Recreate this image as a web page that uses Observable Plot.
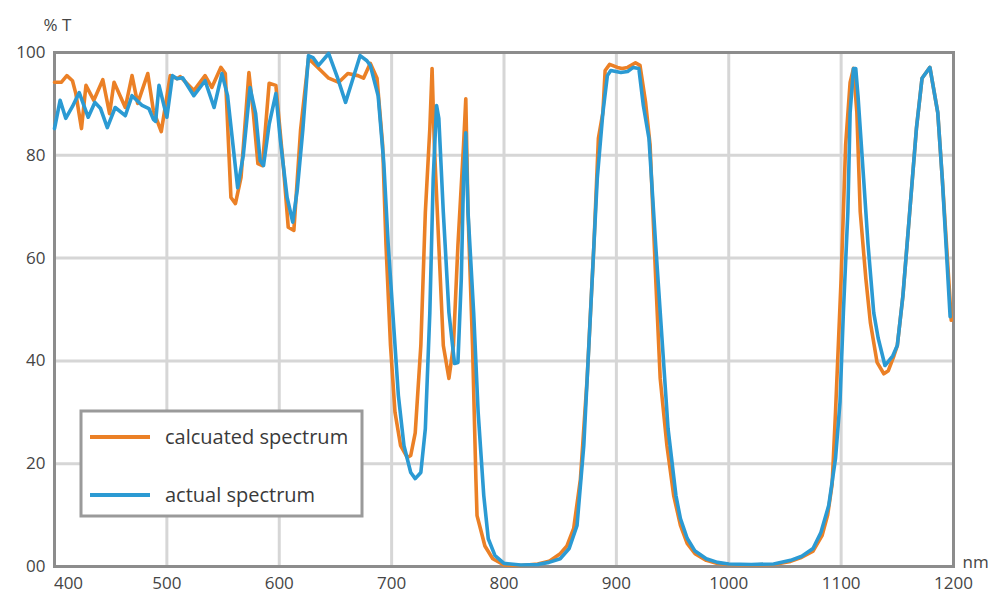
<!DOCTYPE html>
<html>
<head>
<meta charset="utf-8">
<script src="https://cdn.jsdelivr.net/npm/d3@7"></script>
<script src="https://cdn.jsdelivr.net/npm/@observablehq/plot@0.6"></script>
<style>
  html, body { margin: 0; padding: 0; background: #ffffff; }
  #chart svg { display: block; font-family: "Open Sans", "Noto Sans", sans-serif; }
</style>
</head>
<body>
<div id="chart"></div>
<script>
// Transmission spectra: wavelength (nm) and transmission (%T)
const calcNm = [400,406,411,416,419,424,428,435,443,449,453,463,469,474,483,488,495,503,509,512,524,534,540,548,552,557,561,566,573,577,581,585,591,597,604,608,613,619,626,630,637,644,653,661,670,675,681,687,692,695,699,703,708,714,717,721,726,730,734,736,738,742,746,751,755,759,764,766,768,772,775,776,779,783,790,800,815,830,840,850,856,862,868,874,880,884,888,890,894,901,905,910,917,921,926,930,935,939,945,951,957,963,970,980,990,1000,1020,1040,1055,1065,1075,1083,1088,1092,1095,1100,1104,1108,1111,1114,1117,1122,1126,1132,1138,1142,1147,1150,1155,1161,1167,1172,1179,1186,1190,1196,1198];
const calcT = [94.2,94.2,95.5,94.5,92,85.2,93.6,90.7,94.7,88.1,94.2,89.3,95.5,90.1,95.9,88.7,84.6,95.5,94.9,95.3,92.6,95.5,93.2,97.1,95.9,71.8,70.6,75.7,96.1,88.1,78.4,78,94,93.6,77,66,65.4,85,98.8,98,96.5,95,94.2,95.9,95.5,95,97.9,95,82,62.5,43,30,23.5,21.2,21.6,26,43,68.9,85.2,96.9,82,62.5,43,36.6,43,62.5,82,91,68.9,43,17,9.9,7.4,4,1.5,0.3,0.2,0.5,1,2.5,4,7.4,17,36.6,62.5,83.3,88.3,96.5,97.7,97.1,96.9,97.1,98,97.5,90.3,82,56,36.6,23.5,13.8,8,4.5,2.5,1.2,0.6,0.4,0.3,0.4,1,1.8,3,6,10,16,30,56,82,94.2,96.9,88.3,69,56,47.5,39.7,37.5,38.1,41,43,52.7,68.9,85.2,95,97.1,88.3,75.5,55,47.9];

const actualNm = [400,405,410,416,422,430,436,441,447,454,463,469,478,484,488,490,493,500,505,509,514,524,534,542,549,554,563,568,574,579,583,586,591,597,601,607,612,616,621,626,630,635,644,652,659,665,672,678,681,688,693,697,702,706,711,717,721,726,730,734,737,740,742,746,751,756,759,762,764,766,768,773,777,782,786,792,800,815,830,840,850,858,865,871,877,883,888,892,895,904,910,915,920,924,929,935,941,946,953,957,963,970,980,990,1000,1020,1040,1055,1065,1075,1082,1089,1095,1099,1102,1106,1108,1111,1113,1115,1120,1124,1129,1133,1139,1146,1150,1155,1161,1167,1172,1179,1186,1190,1197];
const actualT = [85.2,90.7,87.2,89.5,92.2,87.4,90.3,89.1,85.4,89.3,87.7,91.6,89.7,89.1,87,86.6,93.6,87.4,95.5,94.9,95.1,91.6,94.5,89.3,95.9,91.6,73.7,80,93.2,88.1,79,78,86,92,82.9,71.8,67,73.2,85,99.4,99,97.5,99.8,95,90.3,94.5,99.4,98.4,97.5,91.6,78.6,62.5,46.3,33.3,23.5,18.3,17.1,18.3,26.8,49.4,75.5,89.7,87.2,68.9,49.4,39.5,39.7,56,75.5,84.4,68.9,49.4,30,13.8,5.4,2.1,0.6,0.3,0.4,0.8,1.5,3.5,8,23.5,49.4,75.5,88.3,95.5,96.5,96.1,96.3,97.1,96.9,89.7,83.3,62.5,43,26.8,13.8,9.3,5.5,3,1.5,0.8,0.5,0.4,0.5,1.2,2,3.5,6.6,11.9,21,32,49.4,69,88.3,96.9,96.9,91.6,75.5,62.5,49.4,44.4,39.1,41,43,52.7,68.9,85.2,95,97.1,88.3,75.5,48.6];

const xTicks = [400,500,600,700,800,900,1000,1100,1200];
const yTicks = [0,20,40,60,80,100];
const seriesNames = ["calcuated spectrum", "actual spectrum"];
const seriesColors = ["#eb8026", "#2b9ad3"];

const calc = calcNm.map((nm, i) => ({nm, t: calcT[i]}));
const actual = actualNm.map((nm, i) => ({nm, t: actualT[i]}));

const textColor = "#454545";
const fontSize = 17;
const plain = d => String(d);

const plot = Plot.plot({
  width: 1003,
  height: 595,
  marginLeft: 54,
  marginRight: 50,
  marginTop: 52,
  marginBottom: 29,
  style: {background: "#ffffff", fontSize: fontSize + "px", color: textColor},
  x: {domain: [400, 1200]},
  y: {domain: [0, 100]},
  marks: [
    Plot.gridX(xTicks.slice(1, -1), {stroke: "#d6d6d6", strokeOpacity: 1, strokeWidth: 3}),
    Plot.gridY(yTicks.slice(1, -1), {stroke: "#d6d6d6", strokeOpacity: 1, strokeWidth: 3}),
    Plot.frame({stroke: "#8c8c8c", strokeWidth: 3}),
    Plot.line(calc, {x: "nm", y: "t", stroke: seriesColors[0], strokeWidth: 3.6, strokeLinejoin: "round"}),
    Plot.line(actual, {x: "nm", y: "t", stroke: seriesColors[1], strokeWidth: 3.6, strokeLinejoin: "round"}),
    Plot.axisY(yTicks, {tickSize: 0, tickPadding: 9, fontSize, fill: textColor,
      tickFormat: d => d === 0 ? "00" : String(d), label: null}),
    // first wavelength label sits to the right of its gridline so it clears the "00"
    Plot.axisX(xTicks.slice(0, 1), {tickSize: 0, tickPadding: 10, fontSize, fill: textColor, dx: 14,
      tickFormat: plain, label: null}),
    Plot.axisX(xTicks.slice(1), {tickSize: 0, tickPadding: 10, fontSize, fill: textColor,
      tickFormat: plain, label: null}),
    Plot.text(["% T"], {frameAnchor: "top-left", dx: 3, dy: -34, textAnchor: "middle", fontSize, fill: textColor}),
    Plot.text(["nm"], {frameAnchor: "bottom-right", dx: 9, dy: 1, textAnchor: "start", fontSize, fill: textColor})
  ]
});

document.getElementById("chart").appendChild(plot);

// Legend box drawn inside the plotting area
const svg = d3.select(plot);
const lg = svg.append("g").attr("transform", "translate(81,411)").attr("text-anchor", "start");
lg.append("rect")
  .attr("width", 281).attr("height", 105)
  .attr("fill", "#ffffff").attr("stroke", "#9a9a9a").attr("stroke-width", 3);
seriesNames.forEach((name, i) => {
  const cy = 26 + i * 58;
  lg.append("line")
    .attr("x1", 9).attr("x2", 69).attr("y1", cy).attr("y2", cy)
    .attr("stroke", seriesColors[i]).attr("stroke-width", 4);
  lg.append("text")
    .attr("x", 84).attr("y", cy).attr("dy", "0.35em")
    .attr("text-anchor", "start")
    .attr("font-size", 20).attr("fill", "#3a3a3a")
    .text(name);
});
</script>
</body>
</html>
